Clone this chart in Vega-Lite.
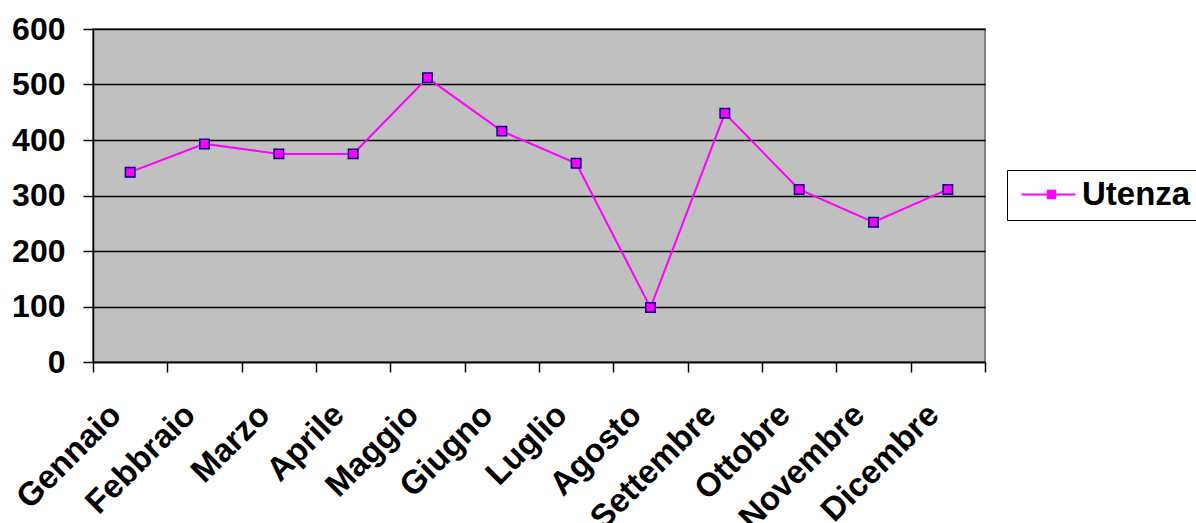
{
  "$schema": "https://vega.github.io/schema/vega-lite/v6.json",
  "width": 892,
  "height": 333,
  "autosize": {"type": "none"},
  "padding": {"left": 93, "top": 29, "right": 211, "bottom": 161},
  "background": "white",
  "config": {
    "view": {"fill": "#C0C0C0", "stroke": "#808080", "strokeWidth": 2},
    "font": "Liberation Sans"
  },
  "data": {
    "values": [
      {"mese": "Gennaio", "utenza": 342, "serie": "Utenza"},
      {"mese": "Febbraio", "utenza": 393, "serie": "Utenza"},
      {"mese": "Marzo", "utenza": 375, "serie": "Utenza"},
      {"mese": "Aprile", "utenza": 375, "serie": "Utenza"},
      {"mese": "Maggio", "utenza": 512, "serie": "Utenza"},
      {"mese": "Giugno", "utenza": 416, "serie": "Utenza"},
      {"mese": "Luglio", "utenza": 358, "serie": "Utenza"},
      {"mese": "Agosto", "utenza": 98, "serie": "Utenza"},
      {"mese": "Settembre", "utenza": 448, "serie": "Utenza"},
      {"mese": "Ottobre", "utenza": 311, "serie": "Utenza"},
      {"mese": "Novembre", "utenza": 252, "serie": "Utenza"},
      {"mese": "Dicembre", "utenza": 311, "serie": "Utenza"}
    ]
  },
  "encoding": {
    "x": {
      "field": "mese",
      "type": "nominal",
      "sort": null,
      "bandPosition": 0.5,
      "scale": {"type": "band", "paddingInner": 0, "paddingOuter": 0},
      "axis": {
        "title": null,
        "domainColor": "black",
        "domainWidth": 1.5,
        "tickColor": "black",
        "tickWidth": 1.5,
        "tickSize": 10,
        "tickBand": "extent",
        "labelAngle": -45,
        "labelAlign": "right",
        "labelBaseline": "top",
        "labelOffset": -26,
        "labelPadding": 26,
        "labelFont": "Liberation Sans",
        "labelFontWeight": "bold",
        "labelFontSize": 33,
        "labelColor": "black"
      }
    },
    "y": {
      "field": "utenza",
      "type": "quantitative",
      "scale": {"domain": [0, 600], "nice": false},
      "axis": {
        "title": null,
        "values": [0, 100, 200, 300, 400, 500, 600],
        "grid": true,
        "gridColor": "black",
        "gridWidth": 1.5,
        "domainColor": "black",
        "domainWidth": 1.5,
        "tickColor": "black",
        "tickWidth": 1.5,
        "tickSize": 10,
        "labelPadding": 18,
        "labelFont": "Liberation Sans",
        "labelFontWeight": "bold",
        "labelFontSize": 32,
        "labelColor": "black"
      }
    }
  },
  "layer": [
    {
      "mark": {"type": "line", "strokeWidth": 2},
      "encoding": {
        "color": {
          "field": "serie",
          "type": "nominal",
          "scale": {"range": ["#FF00FF"]},
          "legend": {
            "title": null,
            "orient": "none",
            "legendX": 914,
            "legendY": 141,
            "zindex": 1,
            "symbolType": "M-3,0H3",
            "symbolSize": 324,
            "symbolStrokeWidth": 2,
            "symbolOffset": 17,
            "labelOffset": 17,
            "labelFont": "Liberation Sans",
            "labelFontWeight": "bold",
            "labelFontSize": 33,
            "labelColor": "black",
            "padding": 8,
            "strokeColor": "black",
            "fillColor": "white",
            "cornerRadius": 0
          }
        }
      }
    },
    {
      "mark": {"type": "point", "filled": true, "fill": "#FF00FF", "stroke": "#000080", "strokeWidth": 1.5, "opacity": 1, "size": 90},
      "encoding": {
        "shape": {
          "field": "serie",
          "type": "nominal",
          "scale": {"range": ["square"]},
          "legend": {
            "title": null,
            "orient": "none",
            "legendX": 914,
            "legendY": 141,
            "zindex": 2,
            "symbolSize": 90,
            "symbolFillColor": "#FF00FF",
            "symbolStrokeColor": "#000080",
            "symbolStrokeWidth": 1.5,
            "symbolOffset": 20,
            "labelOpacity": 0,
            "labelFontSize": 33,
            "padding": 8
          }
        }
      }
    }
  ]
}
